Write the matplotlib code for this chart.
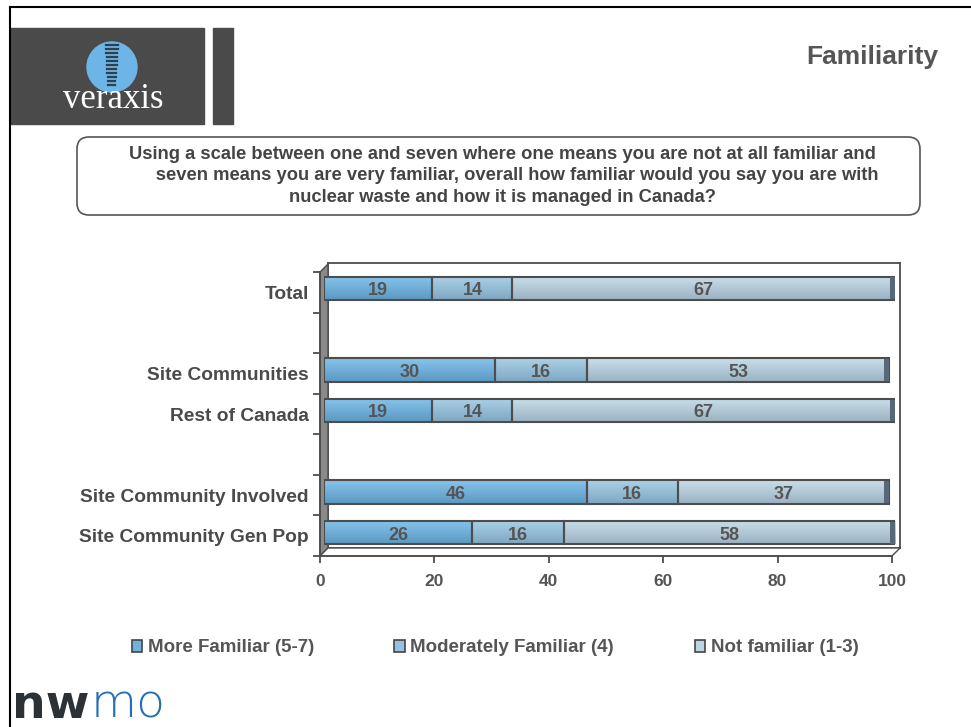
import matplotlib.pyplot as plt
import matplotlib.transforms as mtransforms
import numpy as np
from matplotlib.colors import LinearSegmentedColormap
from matplotlib.lines import Line2D
from matplotlib.patches import Circle, FancyBboxPatch, Patch, Polygon, Rectangle

plt.rcParams["font.family"] = ["Liberation Sans", "DejaVu Sans"]

# data
categories = ["Total", "Site Communities", "Rest of Canada",
              "Site Community Involved", "Site Community Gen Pop"]
more_familiar = [19, 30, 19, 46, 26]
moderately_familiar = [14, 16, 14, 16, 16]
not_familiar = [67, 53, 67, 37, 58]
series_names = ["More Familiar (5-7)", "Moderately Familiar (4)", "Not familiar (1-3)"]
x_ticks = [0, 20, 40, 60, 80, 100]

question = ("Using a scale between one and seven where one means you are not at all familiar and\n"
            "      seven means you are very familiar, overall how familiar would you say you are with\n"
            "nuclear waste and how it is managed in Canada?")

# layout: row slots (gaps at 1 and 4)
slots = [0, 2, 3, 5, 6]
n_slots = 7
W, H = 971, 727
TEXT = "#555555"
EDGE = "#4d4d4d"
grads = [("#86c4ec", "#5b99c3"), ("#abd1e8", "#7ea7c2"), ("#c8dee9", "#9bb2c2")]
mids = ["#6fb3e0", "#97c2dd", "#bcd5e3"]

fig = plt.figure(figsize=(W / 100, H / 100), dpi=100)
pix = mtransforms.Affine2D().scale(1 / W, -1 / H).translate(0, 1) + fig.transFigure


def rect(x0, y0, x1, y1):
    return [x0 / W, 1 - y1 / H, (x1 - x0) / W, (y1 - y0) / H]


# page frame
fig.add_artist(Line2D([10, 10], [7, 727], transform=pix, color="black", lw=1.5))
fig.add_artist(Line2D([10, 971], [7, 7], transform=pix, color="black", lw=1.5))

# veraxis logo
fig.add_artist(Rectangle((10, 28), 194, 96, transform=pix, color="#4a4a4a", zorder=1))
fig.add_artist(Rectangle((213, 28), 20, 96, transform=pix, color="#4a4a4a", zorder=1))
fig.add_artist(Circle((112, 67), 25, transform=pix, color="#6db5e6", zorder=2))
for i in range(11):
    yy = 45 + i * 4
    fig.add_artist(Line2D([106 + i * 0.2, 118 - i * 0.3], [yy, yy], transform=pix,
                          color="#2f3f4c", lw=1.6, zorder=3))
fig.text(113 / W, 1 - 100 / H, "veraxis", color="white", fontsize=25, family="Liberation Serif",
         ha="center", va="center", zorder=4)

# nwmo logo
fig.text(12 / W, 1 - 705 / H, "nw", color="#2b3135", fontsize=34, fontweight="heavy",
         family="DejaVu Sans", ha="left", va="center")
fig.text(91 / W, 1 - 705 / H, "mo", color="#2470b4", fontsize=34, fontweight="light",
         family="DejaVu Sans", ha="left", va="center")

# title
fig.text(872 / W, 1 - 57 / H, "Familiarity", color=TEXT, fontsize=19, fontweight="bold", ha="center", va="center")

# question box
fig.add_artist(FancyBboxPatch((77, 137), 843, 78, boxstyle="round,pad=0,rounding_size=12",
                              transform=pix, facecolor="white", edgecolor=TEXT, lw=1.2))
fig.text(502 / W, 1 - 176 / H, question, color="#444444", fontsize=13.2, fontweight="bold",
         ha="center", va="center", multialignment="center", linespacing=1.32)

# 3D chart frame: back wall, side wall, floor
ax_back = fig.add_axes(rect(328, 263, 900, 548), zorder=0)
ax_back.set_xticks([])
ax_back.set_yticks([])
for s in ax_back.spines.values():
    s.set_color(EDGE)
    s.set_linewidth(1.3)

fig.add_artist(Polygon([(320, 272), (328, 264), (328, 548), (320, 556)], closed=True, transform=pix,
                       facecolor="#8a8a8a", edgecolor=EDGE, lw=1.0, zorder=0.5))
fig.add_artist(Polygon([(320, 556), (328, 548), (900, 548), (892, 556)], closed=True, transform=pix,
                       facecolor="white", edgecolor=EDGE, lw=1.0, zorder=0.5))

ax_front = fig.add_axes(rect(320, 272, 892, 556), zorder=1)
ax_front.patch.set_alpha(0)
ax_front.set_xlim(0, 100)
ax_front.set_ylim(n_slots - 0.5, -0.5)
for side in ["top", "right"]:
    ax_front.spines[side].set_visible(False)
for side in ["left", "bottom"]:
    ax_front.spines[side].set_color(EDGE)
    ax_front.spines[side].set_linewidth(1.3)
ax_front.set_xticks(x_ticks)
ax_front.set_xticklabels([str(t) for t in x_ticks], fontsize=12.5, fontweight="bold", color=TEXT)
ax_front.set_yticks(np.arange(-0.5, n_slots, 1.0))
ax_front.set_yticklabels([])
ax_front.set_yticks(slots, minor=True)
ax_front.set_yticklabels(categories, minor=True, fontsize=13.8, fontweight="bold", color="#4a4a4a")
ax_front.tick_params(axis="both", which="major", direction="out", length=5, width=1.3, color=EDGE)
ax_front.tick_params(axis="x", pad=8)
ax_front.tick_params(axis="y", which="minor", length=0, pad=8)

# bars
ax = fig.add_axes(rect(324, 268, 895, 553), zorder=2)
ax.patch.set_alpha(0)
ax.axis("off")
bar_h = 0.58
lefts = np.zeros(len(categories))
for k, vals in enumerate([more_familiar, moderately_familiar, not_familiar]):
    vals = np.array(vals, dtype=float)
    bars = ax.barh(slots, vals, left=lefts, height=bar_h, facecolor="none",
                   edgecolor=EDGE, linewidth=1.5, zorder=3)
    cmap = LinearSegmentedColormap.from_list("g%d" % k, [grads[k][0], grads[k][1]])
    grad = np.linspace(0, 1, 32).reshape(-1, 1)
    for b in bars:
        x0, y0 = b.get_x(), b.get_y()
        im = ax.imshow(grad, extent=[x0, x0 + b.get_width(), y0 + bar_h, y0], cmap=cmap,
                       aspect="auto", interpolation="bilinear", zorder=2)
        im.set_clip_path(b)
    for s, l, v in zip(slots, lefts, vals):
        ax.text(l + v / 2, s + 0.06, "%d" % v, ha="center", va="center", fontsize=13,
                fontweight="bold", color=TEXT, zorder=5)
    lefts = lefts + vals
ax.barh(slots, [0.9] * len(slots), left=lefts - 0.9, height=bar_h * 0.92, color="#56687a", zorder=4)
ax.set_xlim(0, 100)
ax.set_ylim(n_slots - 0.5, -0.5)

# legend
handles = [Patch(facecolor=c, edgecolor="#444444", linewidth=1.2) for c in mids]
fig.legend(handles, series_names, loc="center", bbox_to_anchor=(495 / W, 1 - 648 / H), ncol=3,
           frameon=False, handlelength=0.55, handleheight=0.55, handletextpad=0.3, columnspacing=4.3,
           prop={"weight": "bold", "size": 13.5}, labelcolor=TEXT)

fig.savefig("out.png", dpi=100)
